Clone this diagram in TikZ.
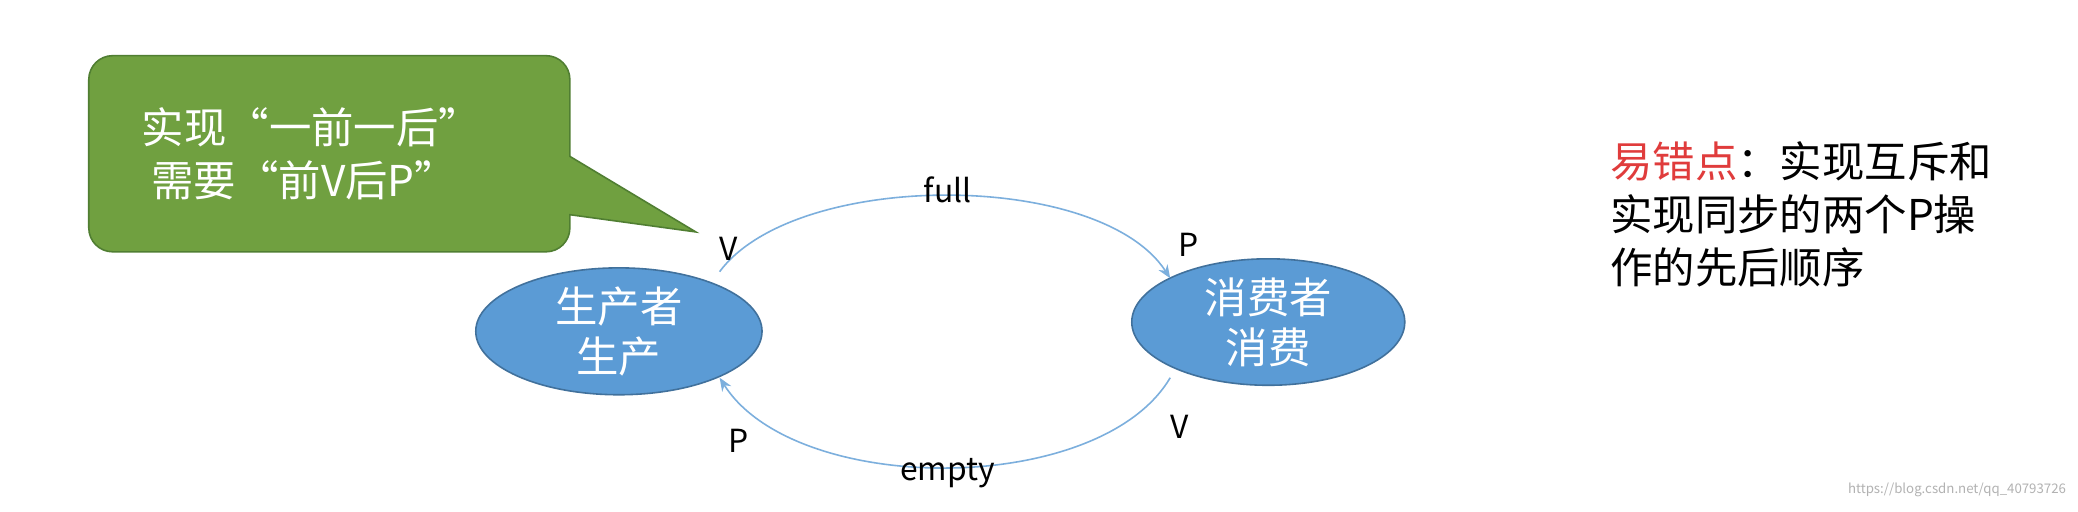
\documentclass[tikz,border=0pt]{standalone}
\usepackage{fontspec}
\setmainfont{Noto Sans CJK SC}
\usetikzlibrary{shapes.geometric,arrows.meta}
\definecolor{bfill}{HTML}{5B9BD5}
\definecolor{bline}{HTML}{41719C}
\definecolor{gfill}{HTML}{70A040}
\definecolor{gline}{HTML}{507E32}
\definecolor{ered}{HTML}{E03C3C}
\tikzset{ell/.style={ellipse,fill=bfill,draw=bline,line width=0.6pt,text=white,font=\fontsize{16}{19}\selectfont,align=center,inner sep=0pt},
lab/.style={font=\fontsize{12}{14}\selectfont},
arc/.style={draw=bfill!80,line width=0.6pt,-{Stealth[length=5pt,width=4pt]}}}
\begin{document}
\begin{tikzpicture}[x=0.5pt,y=-0.5pt]
\useasboundingbox (0,0) rectangle (1568,386);
\fill[white] (0,0) rectangle (1568,386);
% callout
\draw[fill=gfill,draw=gline,line width=0.6pt]
 (85,42) -- (412,42) arc[start angle=90,end angle=0,radius=9pt] -- (430,118) -- (525,175) -- (430,162) -- (430,172)
 arc[start angle=0,end angle=-90,radius=9pt] -- (85,190) arc[start angle=270,end angle=180,radius=9pt] -- (67,60)
 arc[start angle=180,end angle=90,radius=9pt] -- cycle;
\node[text=white,font=\fontsize{16}{20}\selectfont,align=left,anchor=north west] (co) at (100,74) {实现“一前一后”\\\ 需要“前V后P”};
\node[ell,minimum width=108pt,minimum height=47pt] (prod) at (467,250) {生产者\\生产};
\node[ell,minimum width=103pt,minimum height=47pt] (cons) at (957,243) {消费者\\消费};
\coordinate (a1) at (543,205); \coordinate (a2) at (883,210);
\coordinate (b1) at (883,285); \coordinate (b2) at (543,285);
\draw[arc] (a1) .. controls (600,128) and (830,128) .. (a2);
\draw[arc] (b1) .. controls (830,375) and (600,375) .. (b2);
\node[lab] (full) at (715,143) {full};
\node[lab] (v1) at (550,188) {V};
\node[lab] (p1) at (897,185) {P};
\node[lab] (p2) at (557,333) {P};
\node[lab] (v2) at (890,322) {V};
\node[lab] (emp) at (715,357) {empty};
\node[font=\fontsize{16}{20}\selectfont,align=left,anchor=north west] (err) at (1208,100) {\textcolor{ered}{易错点}：实现互斥和\\实现同步的两个P操\\作的先后顺序};
\node[font=\fontsize{5}{6}\selectfont,text=gray!60,anchor=south east] (wm) at (1566,382) {https://blog.csdn.net/qq\_40793726};
\end{tikzpicture}
\end{document}
